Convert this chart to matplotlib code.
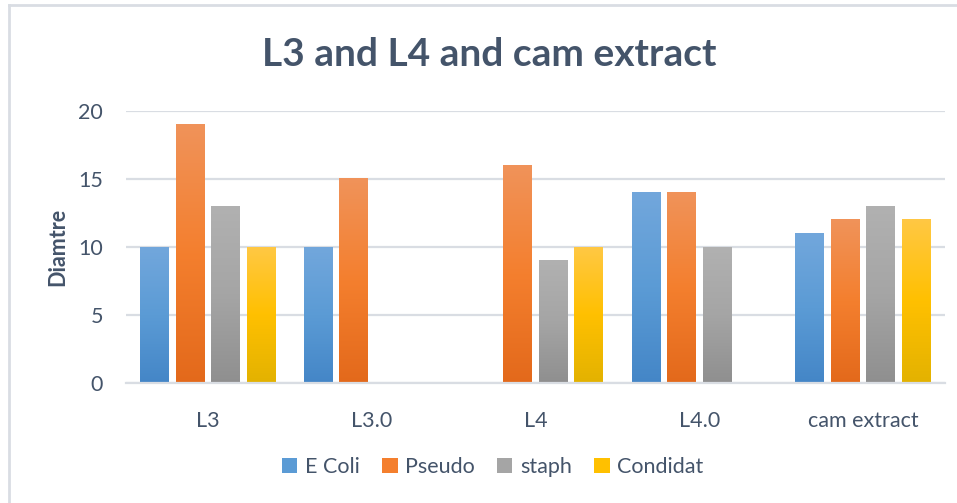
import numpy as np
import matplotlib
matplotlib.use("Agg")
import matplotlib.pyplot as plt
from matplotlib.colors import LinearSegmentedColormap
from matplotlib.patches import Patch
from matplotlib.lines import Line2D

categories = ["L3", "L3.0", "L4", "L4.0", "cam extract"]
series_names = ["E Coli", "Pseudo", "staph", "Condidat"]
e_coli = [10, 10, 0, 14, 11]
pseudo = [19, 15, 16, 14, 12]
staph = [13, 0, 9, 10, 13]
condidat = [10, 0, 10, 0, 12]
series_values = [e_coli, pseudo, staph, condidat]
y_ticks = [0, 5, 10, 15, 20]

# top tint, base colour, bottom shade for each series
gradients = [
    ("#72A7DC", "#5B9BD5", "#4486C7"),
    ("#F0935A", "#F47F2E", "#E3691B"),
    ("#B1B1B1", "#A5A5A5", "#8F8F8F"),
    ("#FFC844", "#FFC000", "#E3B200"),
]

text_color = "#44546A"
grid_color = "#D9DDE3"
plt.rcParams["font.family"] = ["Lato", "DejaVu Sans"]

fig = plt.figure(figsize=(9.57, 5.03), dpi=100)
ax = fig.add_axes([126 / 957, 1 - 383 / 503, 819 / 957, 272 / 503])

n = len(series_names)
pitch = 0.2165
width = 0.177
x = np.arange(len(categories))

for i, (vals, cols) in enumerate(zip(series_values, gradients)):
    cmap = LinearSegmentedColormap.from_list(series_names[i], [cols[2], cols[1], cols[0]])
    offsets = x + (i - (n - 1) / 2) * pitch
    bars = ax.bar(offsets, vals, width=width, color="none", edgecolor="none", zorder=3)
    for b, v in zip(bars, vals):
        if v <= 0:
            continue
        grad = np.linspace(0, 1, 256).reshape(-1, 1)
        ax.imshow(grad, cmap=cmap, origin="lower", aspect="auto",
                  extent=[b.get_x(), b.get_x() + b.get_width(), 0, v],
                  zorder=3, interpolation="bilinear")

ax.set_xlim(-0.5, len(categories) - 0.5)
ax.set_ylim(0, 20)
ax.set_yticks(y_ticks)
ax.set_xticks(x)
ax.set_xticklabels(categories)
ax.yaxis.grid(True, color=grid_color, linewidth=1.6, zorder=0)
ax.set_axisbelow(True)
for s in ["top", "right", "left"]:
    ax.spines[s].set_visible(False)
ax.spines["bottom"].set_color(grid_color)
ax.spines["bottom"].set_linewidth(1.6)
ax.spines["bottom"].set_zorder(4)
ax.tick_params(axis="both", length=0, labelsize=15.5, colors=text_color)
ax.tick_params(axis="x", pad=20)
ax.tick_params(axis="y", pad=16.5)
ax.set_ylabel("Diamtre", fontsize=15.5, fontweight="bold", color=text_color)
ax.yaxis.set_label_coords(-0.0708, 0.5)

fig.text(0.511, 1 - 54 / 503, "L3 and L4 and cam extract", ha="center", va="center",
         fontsize=28, fontweight="bold", color=text_color)

handles = [Patch(facecolor=c[1], edgecolor="none") for c in gradients]
fig.legend(handles, series_names, loc="center", bbox_to_anchor=(0.515, 1 - 467 / 503),
           ncol=4, frameon=False, fontsize=15.5, labelcolor=text_color,
           handlelength=0.7, handleheight=0.7, handletextpad=0.35, columnspacing=1.05)

# chart border (top and left edges)
fig.add_artist(Line2D([8.5 / 957, 1], [1 - 5 / 503, 1 - 5 / 503], color=grid_color, linewidth=2))
fig.add_artist(Line2D([8.5 / 957, 8.5 / 957], [0, 1 - 5 / 503], color=grid_color, linewidth=2))

fig.savefig("out.png", dpi=100)
